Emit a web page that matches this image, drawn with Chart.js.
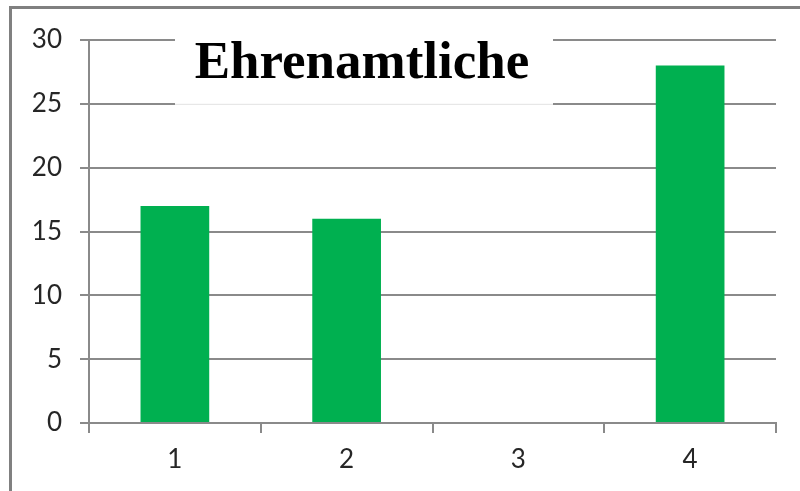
<!DOCTYPE html>
<html>
<head>
<meta charset="utf-8">
<script src="https://cdn.jsdelivr.net/npm/chart.js@4.4.0/dist/chart.umd.min.js"></script>
<style>
  body { margin: 0; background: #fff; }
  #wrap { position: relative; width: 800px; height: 491px; overflow: hidden; }
  #frame {
    position: absolute; left: 9px; top: 6px; width: 820px; height: 520px;
    border-top: 3px solid #808080; border-left: 3px solid #808080;
  }
  canvas { position: absolute; left: 0; top: 0; }
</style>
</head>
<body>
<div id="wrap">
  <div id="frame"></div>
  <canvas id="chart" width="800" height="491"></canvas>
</div>
<script>
  const labels = ["1", "2", "3", "4"];
  const values = [17, 16, 0, 28];
  const titleText = "Ehrenamtliche";

  // white box behind the title, covers the top grid lines
  const titleBox = {
    id: "titleBox",
    beforeDatasetsDraw(chart) {
      const ctx = chart.ctx;
      const y = chart.scales.y;
      const line25 = y.getPixelForValue(25);
      ctx.save();
      ctx.fillStyle = "#fff";
      ctx.fillRect(175, 14, 378, line25 - 14 + 2);
      ctx.strokeStyle = "#e2e2e2";
      ctx.lineWidth = 1;
      ctx.beginPath();
      ctx.moveTo(175, line25 + 0.5);
      ctx.lineTo(553, line25 + 0.5);
      ctx.stroke();
      ctx.fillStyle = "#000";
      ctx.font = 'bold 53px "Liberation Serif"';
      ctx.textAlign = "center";
      ctx.textBaseline = "alphabetic";
      ctx.fillText(titleText, 362, 78);
      ctx.restore();
    },
  };

  const ctx = document.getElementById("chart").getContext("2d");

  new Chart(ctx, {
    type: "bar",
    data: {
      labels: labels,
      datasets: [
        {
          data: values,
          backgroundColor: "#00b050",
          barPercentage: 0.4,
          categoryPercentage: 1,
        },
      ],
    },
    options: {
      responsive: false,
      animation: false,
      layout: { padding: { top: 40, right: 24, left: 0, bottom: 0 } },
      plugins: {
        legend: { display: false },
        tooltip: { enabled: false },
        title: { display: false },
      },
      scales: {
        x: {
          offset: true,
          grid: {
            offset: true,
            drawOnChartArea: false,
            drawTicks: true,
            tickLength: 10,
            color: "#8a8a8a",
            lineWidth: 2,
          },
          border: { color: "#8a8a8a", width: 2 },
          ticks: {
            color: "#262626",
            font: { family: "Lato", size: 26 },
            padding: 11,
          },
          afterFit(scale) {
            scale.height = 68;
          },
        },
        y: {
          min: 0,
          max: 30,
          ticks: {
            stepSize: 5,
            color: "#262626",
            font: { family: "Lato", size: 26 },
            padding: 18,
          },
          grid: {
            color: "#8a8a8a",
            lineWidth: 2,
            tickLength: 9,
          },
          border: { color: "#8a8a8a", width: 2 },
          afterFit(scale) {
            scale.width = 89;
          },
        },
      },
    },
    plugins: [titleBox],
  });
</script>
</body>
</html>
